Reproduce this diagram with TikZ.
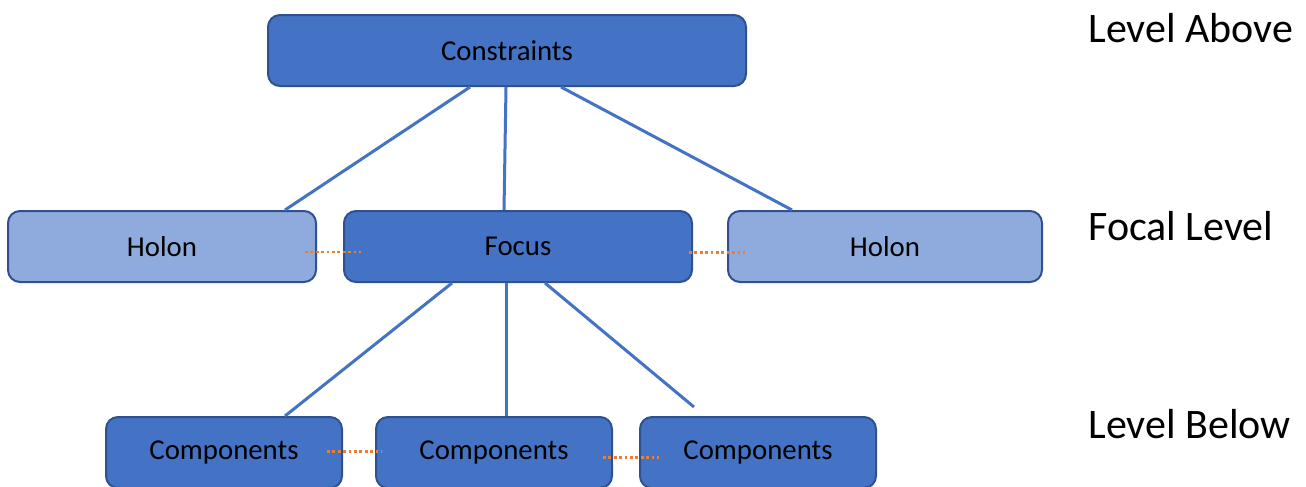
\documentclass[tikz,border=0pt]{standalone}
\usepackage{fontspec}
\setmainfont{Carlito}
\usepackage{xcolor}
\usepackage{tikz}
\usetikzlibrary{positioning,calc}
\definecolor{level}{RGB}{68,114,196}
\definecolor{holon}{RGB}{143,170,220}
\definecolor{rim}{RGB}{47,82,143}
\definecolor{link}{RGB}{237,125,49}

\begin{document}
\begin{tikzpicture}[
    x=0.5pt,y=-0.5pt,
    box/.style={draw=rim,line width=1pt,rounded corners=6pt,fill=level,minimum height=35.5pt,align=center,font=\fontsize{14.4}{17}\selectfont},
    tie/.style={draw=level,line width=1.5pt},
    peer/.style={draw=link,line width=1.4pt,dash pattern=on 1.4pt off 1.3pt},
    lvl/.style={anchor=base west,inner sep=0pt,font=\fontsize{21}{25}\selectfont}
  ]
    \useasboundingbox (0,0) rectangle (1306,487);
    % focal level
    \node[box,minimum width=174pt] (focus) at (518,246.5) {Focus};
    \node[box,fill=holon,minimum width=154pt,left=13pt of focus] (holonL) {Holon};
    \node[box,fill=holon,minimum width=157pt,right=17pt of focus] (holonR) {Holon};
    % level above and below
    \node[box,minimum width=239pt,above=61.5pt of focus,xshift=-5.5pt] (constraints) {Constraints};
    \node[box,minimum width=118pt,below=66.5pt of focus,xshift=-12pt] (comp2) {Components};
    \node[box,minimum width=118pt,left=16pt of comp2] (comp1) {Components};
    \node[box,minimum width=118pt,right=13pt of comp2] (comp3) {Components};
    \coordinate (stub) at ([xshift=-32pt,yshift=4.5pt]comp3.north);
    % links between levels
    \draw[tie] ([xshift=-18.5pt]constraints.south) -- ([xshift=61.5pt]holonL.north);
    \draw[tie] ([xshift=-0.5pt]constraints.south) -- ([xshift=-7pt]focus.north);
    \draw[tie] ([xshift=27pt]constraints.south) -- ([xshift=-46.5pt]holonR.north);
    \draw[tie] ([xshift=-33pt]focus.south) -- ([xshift=30.5pt]comp1.north);
    \draw[tie] ([xshift=-6pt]focus.south) -- ([xshift=6pt]comp2.north);
    \draw[tie] ([xshift=13.5pt]focus.south) -- (stub);
    % links within a level
    \draw[peer] ([xshift=-6pt,yshift=-2.75pt]holonL.east) -- ([xshift=9pt,yshift=-2.75pt]focus.west);
    \draw[peer] ([xshift=-2pt,yshift=-3pt]focus.east) -- ([xshift=9pt,yshift=-3pt]holonR.west);
    \draw[peer] ([xshift=-8pt,yshift=0.5pt]comp1.east) -- ([xshift=3.5pt,yshift=0.5pt]comp2.west);
    \draw[peer] ([xshift=-5pt,yshift=-2.5pt]comp2.east) -- ([xshift=10pt,yshift=-2.5pt]comp3.west);
    % level names
    \node[lvl] (above) at (1088,42) {Level Above};
    \node[lvl] (focal) at (1088,240) {Focal Level};
    \node[lvl] (below) at (1088,438) {Level Below};
  \end{tikzpicture}
\end{document}
